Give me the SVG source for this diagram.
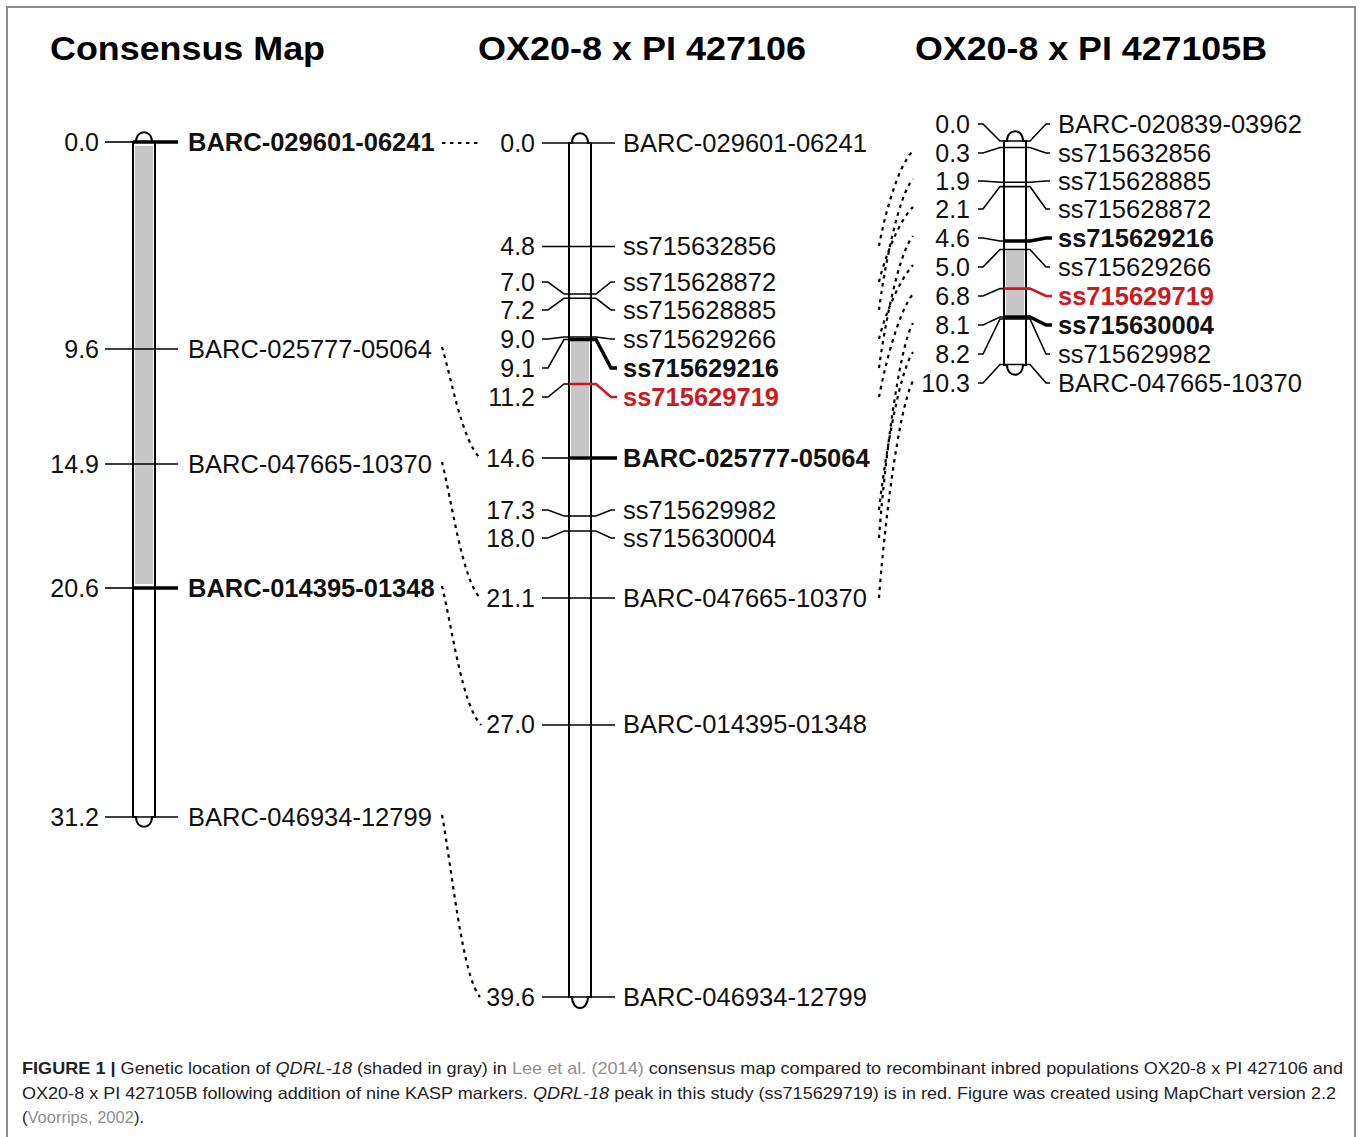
<svg xmlns="http://www.w3.org/2000/svg" width="1360" height="1137" viewBox="0 0 1360 1137">
<style>
.chr{fill:#fff;stroke:#000;stroke-width:2}
.shade{fill:#c6c6c6}
.tk{fill:none;stroke:#000;stroke-width:1.6}
.tkb{fill:none;stroke:#000;stroke-width:3.5}
.tkr{fill:none;stroke:#d0161f;stroke-width:2.6}
.num{font-family:"Liberation Sans",Arial,sans-serif;font-size:25px;text-anchor:end;fill:#111}
.lab{font-family:"Liberation Sans",Arial,sans-serif;font-size:25.5px;fill:#111}
.b{font-weight:bold}
.red{fill:#cc1a1f}
.hd{font-family:"Liberation Sans",Arial,sans-serif;font-size:33px;font-weight:bold;fill:#000}
.cn{fill:none;stroke:#000;stroke-width:2.2;stroke-dasharray:3.5 4.5}
.cap{font-family:"Liberation Sans",Arial,sans-serif;font-size:16.5px;fill:#222}
.lk{fill:#8f8f8f}
</style>
<rect x="0" y="0" width="1360" height="1137" fill="#fff"/>
<rect x="7" y="7" width="1348" height="1150" fill="none" stroke="#8c8c8c" stroke-width="2"/>

<g id="headers">
<text class="hd" x="50" y="60" textLength="275" lengthAdjust="spacingAndGlyphs">Consensus Map</text>
<text class="hd" x="478" y="60" textLength="328" lengthAdjust="spacingAndGlyphs">OX20-8 x PI 427106</text>
<text class="hd" x="915" y="60" textLength="352" lengthAdjust="spacingAndGlyphs">OX20-8 x PI 427105B</text>
</g>

<g id="consensus">
<path class="chr" d="M133,142 V817 H136 C136,830 152,830 152,817 H155 V142 H152 C152,129 136,129 136,142 Z"/>
<rect class="shade" x="135" y="146" width="18" height="438"/>
<path class="tk" d="M105,142 H133"/><path class="tkb" d="M133,142 H178"/>
<text class="num" x="99" y="151">0.0</text><text class="lab b" x="188" y="151">BARC-029601-06241</text>
<path class="tk" d="M105,349 H178"/>
<text class="num" x="99" y="358">9.6</text><text class="lab" x="188" y="358">BARC-025777-05064</text>
<path class="tk" d="M105,464 H178"/>
<text class="num" x="99" y="473">14.9</text><text class="lab" x="188" y="473">BARC-047665-10370</text>
<path class="tk" d="M105,588 H133"/><path class="tkb" d="M133,588 H178"/>
<text class="num" x="99" y="597">20.6</text><text class="lab b" x="188" y="597">BARC-014395-01348</text>
<path class="tk" d="M105,817 H178"/>
<text class="num" x="99" y="826">31.2</text><text class="lab" x="188" y="826">BARC-046934-12799</text>
</g>

<g id="ox106">
<path class="chr" d="M569,143 V997 H572 C572,1004 576,1008 580,1008 C584,1008 588,1004 588,997 H591 V143 H588 C588,130 572,130 572,143 Z"/>
<rect class="shade" x="571" y="341" width="18" height="115"/>
<path class="tk" d="M542,143 H615"/>
<text class="num" x="535" y="152">0.0</text><text class="lab" x="623" y="152">BARC-029601-06241</text>
<path class="tk" d="M542,246.5 H615"/>
<text class="num" x="535" y="255">4.8</text><text class="lab" x="623" y="255">ss715632856</text>
<path class="tk" d="M542,282 H548 L564,294 H596 L611,282 H615"/>
<text class="num" x="535" y="291">7.0</text><text class="lab" x="623" y="291">ss715628872</text>
<path class="tk" d="M542,310 H548 L564,298.3 H596 L611,310 H615"/>
<text class="num" x="535" y="319">7.2</text><text class="lab" x="623" y="319">ss715628885</text>
<path class="tk" d="M542,339 H548 L564,337 H596 L611,339 H615"/>
<text class="num" x="535" y="348">9.0</text><text class="lab" x="623" y="348">ss715629266</text>
<path class="tk" d="M542,368 H548 L564,339.5 H569"/><path class="tkb" d="M569,339.5 H596 L611,368 H617"/>
<text class="num" x="535" y="377">9.1</text><text class="lab b" x="623" y="377">ss715629216</text>
<path class="tk" d="M542,397 H548 L564,384 H569"/><path class="tkr" d="M569,384 H596 L611,397 H617"/>
<text class="num" x="535" y="406">11.2</text><text class="lab b red" x="623" y="406">ss715629719</text>
<path class="tk" d="M542,458 H569"/><path class="tkb" d="M569,458 H617"/>
<text class="num" x="535" y="467">14.6</text><text class="lab b" x="623" y="467">BARC-025777-05064</text>
<path class="tk" d="M542,510 H548 L564,516 H596 L611,510 H615"/>
<text class="num" x="535" y="519">17.3</text><text class="lab" x="623" y="519">ss715629982</text>
<path class="tk" d="M542,538 H548 L564,531 H596 L611,538 H615"/>
<text class="num" x="535" y="547">18.0</text><text class="lab" x="623" y="547">ss715630004</text>
<path class="tk" d="M542,598 H615"/>
<text class="num" x="535" y="607">21.1</text><text class="lab" x="623" y="607">BARC-047665-10370</text>
<path class="tk" d="M542,725 H615"/>
<text class="num" x="535" y="733">27.0</text><text class="lab" x="623" y="733">BARC-014395-01348</text>
<path class="tk" d="M542,997 H615"/>
<text class="num" x="535" y="1006">39.6</text><text class="lab" x="623" y="1006">BARC-046934-12799</text>
</g>

<g id="ox105b">
<path class="chr" d="M1004,141 V365 H1007 C1007,378 1023,378 1023,365 H1026 V141 H1023 C1023,128 1007,128 1007,141 Z"/>
<rect class="shade" x="1006" y="251" width="18" height="64"/>
<path class="tk" d="M978,124 H983 L1000,141 H1030 L1046,124 H1050"/>
<text class="num" x="970" y="133">0.0</text><text class="lab" x="1058" y="133">BARC-020839-03962</text>
<path class="tk" d="M978,153 H983 L1000,147.5 H1030 L1046,153 H1050"/>
<text class="num" x="970" y="162">0.3</text><text class="lab" x="1058" y="162">ss715632856</text>
<path class="tk" d="M978,181 H983 L1000,182.2 H1030 L1046,181 H1050"/>
<text class="num" x="970" y="190">1.9</text><text class="lab" x="1058" y="190">ss715628885</text>
<path class="tk" d="M978,209 H983 L1000,186.6 H1030 L1046,209 H1050"/>
<text class="num" x="970" y="218">2.1</text><text class="lab" x="1058" y="218">ss715628872</text>
<path class="tk" d="M978,238 H983 L1000,241 H1004"/><path class="tkb" d="M1004,241 H1030 L1046,238 H1052"/>
<text class="num" x="970" y="247">4.6</text><text class="lab b" x="1058" y="247">ss715629216</text>
<path class="tk" d="M978,267 H983 L1000,249.5 H1030 L1046,267 H1050"/>
<text class="num" x="970" y="276">5.0</text><text class="lab" x="1058" y="276">ss715629266</text>
<path class="tk" d="M978,296 H983 L1000,288.6 H1004"/><path class="tkr" d="M1004,288.6 H1030 L1046,296 H1052"/>
<text class="num" x="970" y="305">6.8</text><text class="lab b red" x="1058" y="305">ss715629719</text>
<path class="tk" d="M978,325 H983 L1000,317 H1004"/><path class="tkb" d="M1004,317 H1030 L1046,325 H1052"/>
<text class="num" x="970" y="334">8.1</text><text class="lab b" x="1058" y="334">ss715630004</text>
<path class="tk" d="M978,354 H983 L1000,319 H1030 L1046,354 H1050"/>
<text class="num" x="970" y="363">8.2</text><text class="lab" x="1058" y="363">ss715629982</text>
<path class="tk" d="M978,383 H983 L1000,364.5 H1030 L1046,383 H1050"/>
<text class="num" x="970" y="392">10.3</text><text class="lab" x="1058" y="392">BARC-047665-10370</text>
</g>

<g id="connectors">
<path class="cn" d="M442,143 H480"/>
<path class="cn" d="M442,347 C452,381 462,440 480,458"/>
<path class="cn" d="M442,462 C452,502 462,578 480,598"/>
<path class="cn" d="M442,586 C452,627 462,705 481,725"/>
<path class="cn" d="M442,815 C452,869 462,975 480,997"/>
<path class="cn" d="M879,246 C884,218 898,165 913,151"/>
<path class="cn" d="M879,282 C884,260 898,222 913,207"/>
<path class="cn" d="M879,310 C884,270 898,196 913,179"/>
<path class="cn" d="M879,339 C884,318 898,282 913,265"/>
<path class="cn" d="M879,368 C884,330 898,254 913,236"/>
<path class="cn" d="M879,397 C884,370 898,312 913,294"/>
<path class="cn" d="M879,598 C884,530 898,410 913,381"/>
<path class="cn" d="M879,510 C884,465 898,375 913,352"/>
<path class="cn" d="M879,538 C884,470 898,350 913,323"/>
</g>

<g id="caption">
<text class="cap" x="22" y="1074" textLength="1321" lengthAdjust="spacingAndGlyphs"><tspan font-weight="bold">FIGURE 1 |</tspan> Genetic location of <tspan font-style="italic">QDRL-18</tspan> (shaded in gray) in <tspan class="lk">Lee et al. (2014)</tspan> consensus map compared to recombinant inbred populations OX20-8 x PI 427106 and</text>
<text class="cap" x="22" y="1099" textLength="1314" lengthAdjust="spacingAndGlyphs">OX20-8 x PI 427105B following addition of nine KASP markers. <tspan font-style="italic">QDRL-18</tspan> peak in this study (ss715629719) is in red. Figure was created using MapChart version 2.2</text>
<text class="cap" x="22" y="1123">(<tspan class="lk">Voorrips, 2002</tspan>).</text>
</g>
</svg>
